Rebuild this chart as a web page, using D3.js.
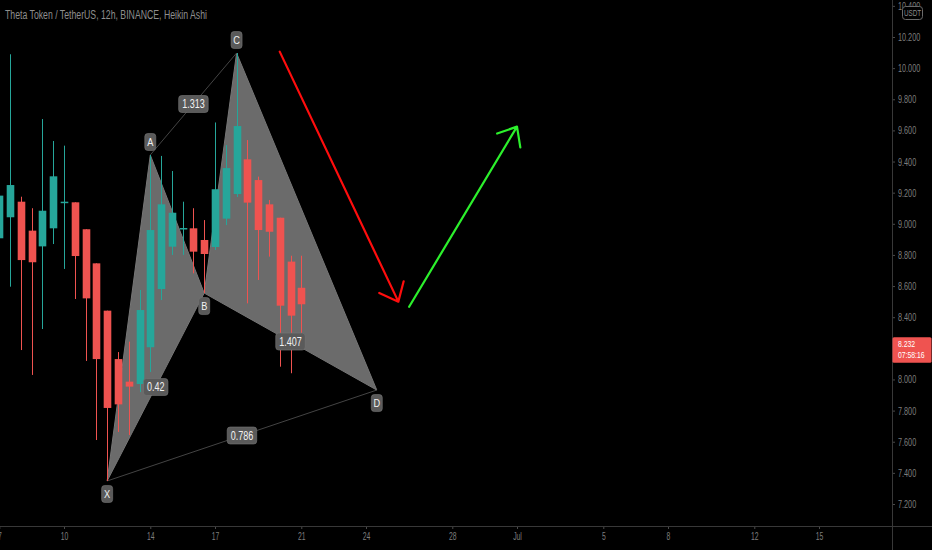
<!DOCTYPE html>
<html><head><meta charset="utf-8">
<script src="https://cdn.jsdelivr.net/npm/d3@7"></script>
<style>html,body{margin:0;padding:0;background:#000;overflow:hidden}svg{display:block}</style>
</head><body>
<svg id="chart" width="932" height="550"></svg>
<script>
// ---------- data ----------
const candleTimes = [
  "2021-06-07 00:00","2021-06-07 12:00","2021-06-08 00:00","2021-06-08 12:00","2021-06-09 00:00",
  "2021-06-09 12:00","2021-06-10 00:00","2021-06-10 12:00","2021-06-11 00:00","2021-06-11 12:00",
  "2021-06-12 00:00","2021-06-12 12:00","2021-06-13 00:00","2021-06-13 12:00","2021-06-14 00:00",
  "2021-06-14 12:00","2021-06-15 00:00","2021-06-15 12:00","2021-06-16 00:00","2021-06-16 12:00",
  "2021-06-17 00:00","2021-06-17 12:00","2021-06-18 00:00","2021-06-18 12:00","2021-06-19 00:00",
  "2021-06-19 12:00","2021-06-20 00:00","2021-06-20 12:00","2021-06-21 00:00"
];
const opens  = [8.907,9.042,9.142,8.956,8.855,8.971,9.138,9.138,8.965,8.746,8.442,8.131,7.986,7.971,8.207,8.581,8.853,8.969,8.971,8.896,8.851,9.033,9.191,9.414,9.281,9.125,9.039,8.757,8.589];
const highs  = [9.230,10.089,9.174,9.100,9.673,9.532,9.502,9.138,8.965,8.746,8.442,8.176,8.243,8.575,9.442,9.436,9.339,9.142,9.100,9.024,9.651,9.506,10.097,9.538,9.303,9.153,9.039,8.795,8.795];
const lows   = [8.755,8.596,8.189,8.029,8.324,8.870,8.710,8.517,8.119,7.611,7.348,7.663,7.643,7.919,8.048,8.510,8.800,8.800,8.682,8.555,8.832,8.992,9.172,8.489,8.639,8.789,8.082,8.040,8.221];
const closes = [9.181,9.249,8.767,8.753,9.084,9.305,9.142,8.793,8.521,8.131,7.817,7.840,7.954,8.446,8.960,9.125,9.071,8.973,8.821,8.806,9.222,9.358,9.628,9.136,8.960,8.949,8.474,8.410,8.483];

const xTickDates = ["2021-06-07","2021-06-10","2021-06-14","2021-06-17","2021-06-21","2021-06-24","2021-06-28","2021-07-01","2021-07-05","2021-07-08","2021-07-12","2021-07-15"];
// 8.200 is hidden under the last-price tag in the reference
const yTicks = [7.2,7.4,7.6,7.8,8.0,8.4,8.6,8.8,9.0,9.2,9.4,9.6,9.8,10.0,10.2,10.4];

const patternNames  = ["X","A","B","C","D"];
const patternTimes  = ["2021-06-12 00:00","2021-06-14 00:00","2021-06-16 12:00","2021-06-18 00:00","2021-06-24 12:00"];
const patternPrices = [7.348,9.442,8.555,10.097,7.932];
const ratioLabels = ["0.42","1.313","1.407","0.786"];
const ratioFrom   = [0,1,2,0];
const ratioTo     = [2,3,4,4];

const arrowStartTimes  = ["2021-06-20 00:00","2021-06-26 00:00"];
const arrowStartPrices = [10.106,8.467];
const arrowEndTimes    = ["2021-06-25 12:00","2021-07-01 00:00"];
const arrowEndPrices   = [8.500,9.624];
const arrowColors      = ["#ff0d0d","#2cf02c"];

const titleText = "Theta Token / TetherUS, 12h, BINANCE, Heikin Ashi";
const lastPriceText = "8.232";
const lastPriceValue = 8.232;
const countdownText = "07:58:16";
const currencyText = "USDT";

// ---------- setup ----------
const W = 932, H = 550, axisX = 892, axisY = 526;
const parseT = d3.utcParse("%Y-%m-%d %H:%M");
const parseD = d3.utcParse("%Y-%m-%d");
const FONT = "'Liberation Sans', Arial, sans-serif";
function squeeze(sel, f){ sel.each(function(){ const w=this.getComputedTextLength(); d3.select(this).attr("textLength", w*f).attr("lengthAdjust","spacingAndGlyphs"); }); }

const svg = d3.select("#chart");
svg.append("rect").attr("width",W).attr("height",H).attr("fill","#000");

const x = d3.scaleTime().domain([parseD("2021-06-10"), parseD("2021-07-15")]).range([64, 819]);
const y = d3.scaleLinear().domain([7.2, 10.2]).range([504, 37]);

const defs = svg.append("defs");
defs.append("clipPath").attr("id","plot").append("rect").attr("x",0).attr("y",0).attr("width",axisX).attr("height",axisY);
const plot = svg.append("g").attr("clip-path","url(#plot)");

// pattern points
const pts = patternNames.map((n,i)=>({name:n, x:x(parseT(patternTimes[i])), y:y(patternPrices[i]), p:patternPrices[i]}));

// triangles XAB and BCD
plot.append("path").attr("d", d3.line()([[pts[0].x,pts[0].y],[pts[1].x,pts[1].y],[pts[2].x,pts[2].y]])+"Z")
  .attr("fill","#6b6b6b").attr("stroke","#767676").attr("stroke-width",1);
plot.append("path").attr("d", d3.line()([[pts[2].x,pts[2].y],[pts[3].x,pts[3].y],[pts[4].x,pts[4].y]])+"Z")
  .attr("fill","#6b6b6b").attr("stroke","#767676").attr("stroke-width",1);
// thin connecting lines A-C and X-D
[[1,3],[0,4]].forEach(([a,b])=>{
  plot.append("line").attr("x1",pts[a].x).attr("y1",pts[a].y).attr("x2",pts[b].x).attr("y2",pts[b].y)
    .attr("stroke","#444").attr("stroke-width",1);
});

// candles
const bw = 7.6;
const candles = plot.append("g");
candleTimes.forEach((t,i)=>{
  const cx = Math.round(x(parseT(t)))+0.5;
  const up = closes[i] >= opens[i];
  const col = up ? "#26a69a" : "#ef5350";
  candles.append("line").attr("x1",cx).attr("x2",cx).attr("y1",y(highs[i])).attr("y2",y(lows[i]))
    .attr("stroke",col).attr("stroke-width",1);
  const top = y(Math.max(opens[i],closes[i])), bot = y(Math.min(opens[i],closes[i]));
  candles.append("rect").attr("x",cx-bw/2).attr("y",top).attr("width",bw).attr("height",Math.max(1.5,bot-top)).attr("fill",col);
});

// ratio labels
ratioLabels.forEach((lab,i)=>{
  const a = pts[ratioFrom[i]], b = pts[ratioTo[i]];
  const mx = (a.x+b.x)/2, my = (a.y+b.y)/2;
  const g = plot.append("g");
  const t = g.append("text").attr("x",mx).attr("y",my).attr("dy","0.36em").attr("text-anchor","middle")
    .attr("font-family",FONT).attr("font-size",12).attr("fill","#f2f2f2").text(lab);
  squeeze(t, 0.75);
  const w = +t.attr("textLength") + 7;
  g.insert("rect","text").attr("x",mx-w/2).attr("y",my-8.5).attr("width",w).attr("height",17).attr("rx",3)
    .attr("fill","#5a5a5a").attr("stroke","#777").attr("stroke-width",0.6);
});

// point letter labels
pts.forEach((p,i)=>{
  const prev = pts[i-1], next = pts[i+1];
  const isHigh = (prev ? p.p > prev.p : true) && (next ? p.p > next.p : true);
  const ly = isHigh ? p.y - 13 : p.y + 13;
  const g = plot.append("g");
  g.append("rect").attr("x",p.x-5.5).attr("y",ly-8.5).attr("width",11).attr("height",17).attr("rx",3)
    .attr("fill","#5a5a5a").attr("stroke","#777").attr("stroke-width",0.6);
  const t = g.append("text").attr("x",p.x).attr("y",ly).attr("dy","0.36em").attr("text-anchor","middle")
    .attr("font-family",FONT).attr("font-size",11.5).attr("fill","#f2f2f2").text(p.name);
  squeeze(t, 0.8);
});

// arrows
arrowColors.forEach((col,i)=>{
  const sx = x(parseT(arrowStartTimes[i])), sy = y(arrowStartPrices[i]);
  const tx = x(parseT(arrowEndTimes[i])), ty = y(arrowEndPrices[i]);
  const len = Math.hypot(tx-sx, ty-sy);
  const bx = (sx-tx)/len, by = (sy-ty)/len;
  const ang = 40*Math.PI/180, L = 21;
  const rot = a => [tx + L*(bx*Math.cos(a) - by*Math.sin(a)), ty + L*(bx*Math.sin(a) + by*Math.cos(a))];
  const a1 = rot(ang), a2 = rot(-ang);
  plot.append("path").attr("d",`M${sx},${sy}L${tx},${ty}M${a1[0]},${a1[1]}L${tx},${ty}L${a2[0]},${a2[1]}`)
    .attr("fill","none").attr("stroke",col).attr("stroke-width",2.2).attr("stroke-linecap","round").attr("stroke-linejoin","round");
});

// title
svg.append("text").attr("x",5).attr("y",18.5).attr("font-family",FONT).attr("font-size",12)
  .attr("fill","#8e8e8e").attr("textLength",202).attr("lengthAdjust","spacingAndGlyphs").text(titleText);

// axes
const yAxis = d3.axisRight(y).tickValues(yTicks).tickFormat(d3.format(".3f")).tickSize(3).tickPadding(3);
const gy = svg.append("g").attr("transform",`translate(${axisX},0)`).call(yAxis);
gy.select(".domain").remove();
gy.selectAll(".tick line").attr("stroke","#4a4a4a");
gy.selectAll(".tick text").attr("fill","#7d7d7d").attr("font-family",FONT).attr("font-size",11);
squeeze(gy.selectAll(".tick text"), 0.66);

const xAxis = d3.axisBottom(x).tickValues(xTickDates.map(parseD))
  .tickFormat(d => d.getUTCDate()===1 ? d3.utcFormat("%b")(d) : String(d.getUTCDate())).tickSize(3).tickPadding(3);
const gx = svg.append("g").attr("transform",`translate(0,${axisY})`).call(xAxis);
gx.select(".domain").remove();
gx.selectAll(".tick line").attr("stroke","#4a4a4a");
gx.selectAll(".tick text").attr("fill","#7d7d7d").attr("font-family",FONT).attr("font-size",11);
squeeze(gx.selectAll(".tick text"), 0.62);

svg.append("line").attr("x1",0).attr("x2",W).attr("y1",axisY+0.5).attr("y2",axisY+0.5).attr("stroke","#383838");
svg.append("line").attr("x1",axisX+0.5).attr("x2",axisX+0.5).attr("y1",0).attr("y2",H).attr("stroke","#383838");

// last price tag
const ly = y(lastPriceValue);
svg.append("rect").attr("x",axisX+0.5).attr("y",ly-6).attr("width",39).attr("height",25.5).attr("rx",1.5).attr("fill","#ef5350");
const lp1 = svg.append("text").attr("x",898).attr("y",ly+3.5).attr("font-family",FONT).attr("font-size",9.5).attr("fill","#fff").text(lastPriceText);
const lp2 = svg.append("text").attr("x",898).attr("y",ly+15).attr("font-family",FONT).attr("font-size",9.5).attr("fill","#fff").text(countdownText);
squeeze(lp1, 0.72); squeeze(lp2, 0.72);

// currency badge
svg.append("rect").attr("x",902.5).attr("y",6.5).attr("width",20).attr("height",13).attr("rx",3)
  .attr("fill","#000").attr("stroke","#6a6a6a").attr("stroke-width",1);
const cb = svg.append("text").attr("x",912.5).attr("y",13).attr("dy","0.36em").attr("text-anchor","middle")
  .attr("font-family",FONT).attr("font-size",9).attr("fill","#8a8a8a").text(currencyText);
squeeze(cb, 0.7);
</script>
</body></html>
